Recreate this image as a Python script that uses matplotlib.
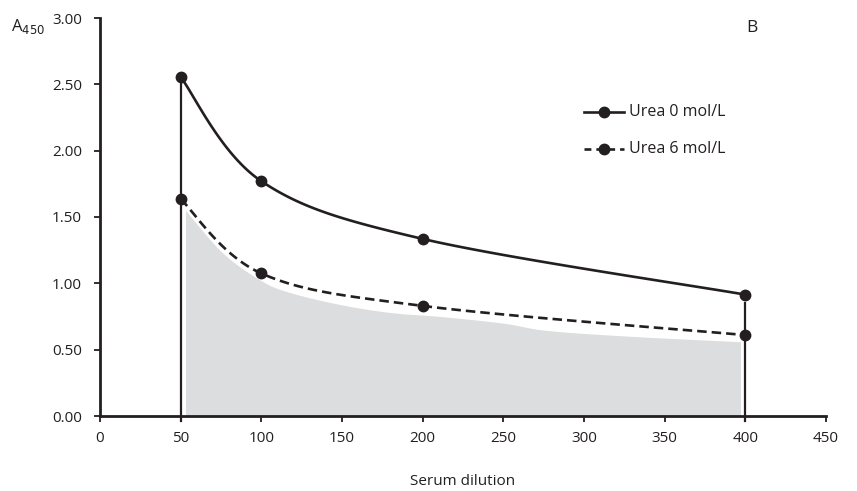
import numpy as np
import matplotlib
matplotlib.use("Agg")
import matplotlib.pyplot as plt

plt.rcParams['font.family'] = ['Open Sans', 'DejaVu Sans']

dilution = [50, 100, 200, 400]
urea0 = [2.555, 1.77, 1.335, 0.915]
urea6 = [1.635, 1.075, 0.83, 0.61]
shade_x = [53, 76, 100, 118, 149, 180, 211, 250, 277, 330, 397]
shade_y = [1.55, 1.23, 1.02, 0.93, 0.84, 0.78, 0.75, 0.70, 0.645, 0.60, 0.56]
xticks = [0, 50, 100, 150, 200, 250, 300, 350, 400, 450]
yticks = [0.0, 0.5, 1.0, 1.5, 2.0, 2.5, 3.0]


def smooth(xs, ys, n=40):
    """Catmull-Rom style Bezier smoothing (like spreadsheet smoothed lines)."""
    P = np.column_stack([xs, ys]).astype(float)
    out = []
    for i in range(len(P) - 1):
        p0 = P[i - 1] if i > 0 else P[i]
        p1 = P[i]
        p2 = P[i + 1]
        p3 = P[i + 2] if i + 2 < len(P) else P[i + 1]
        c1 = p1 + (p2 - p0) / 6.0
        c2 = p2 - (p3 - p1) / 6.0
        t = np.linspace(0, 1, n)[:, None]
        seg = ((1 - t) ** 3) * p1 + 3 * ((1 - t) ** 2) * t * c1 + 3 * (1 - t) * t ** 2 * c2 + t ** 3 * p2
        out.append(seg if i == 0 else seg[1:])
    arr = np.vstack(out)
    return arr[:, 0], arr[:, 1]


INK = '#231f20'
DASH = (3.6, 1.9)

fig = plt.figure(figsize=(8.57, 4.91), dpi=100)
ax = fig.add_axes([100 / 857, 1 - 416 / 491, 726 / 857, 398 / 491])

sx, sy = smooth(shade_x, shade_y)
ax.fill_between(sx, 0, sy, color='#dcddde', lw=0, zorder=1)

# vertical reference lines
ax.plot([dilution[0], dilution[0]], [-0.04, urea0[0]], color=INK, lw=1.6, clip_on=False, zorder=2)
ax.plot([dilution[-1], dilution[-1]], [-0.04, 0.85], color=INK, lw=1.6, clip_on=False, zorder=2)

x0, y0 = smooth(dilution, urea0)
x6, y6 = smooth(dilution, urea6)
ax.plot(x0, y0, color=INK, lw=1.9, zorder=3)
ax.plot(x6, y6, color=INK, lw=1.9, dashes=DASH, zorder=3)
ax.plot(dilution, urea0, 'o', color=INK, ms=7.5, zorder=4, clip_on=False)
ax.plot(dilution, urea6, 'o', color=INK, ms=7.5, zorder=4, clip_on=False)

# legend drawn manually in axes fraction coordinates
for yy, ls, lab in [(0.765, '-', 'Urea 0 mol/L'), (0.670, '--', 'Urea 6 mol/L')]:
    if ls == '-':
        ax.plot([0.667, 0.722], [yy, yy], color=INK, lw=1.9, transform=ax.transAxes, clip_on=False)
    else:
        ax.plot([0.667, 0.722], [yy, yy], color=INK, lw=1.9, dashes=(2.6, 1.9),
                transform=ax.transAxes, clip_on=False)
    ax.plot([0.694], [yy], 'o', color=INK, ms=7.5, transform=ax.transAxes, clip_on=False)
    ax.text(0.728, yy, lab, transform=ax.transAxes, va='center', ha='left', fontsize=11.5, color=INK)

ax.text(0.898, 0.975, 'B', transform=ax.transAxes, fontsize=12.5, va='center', ha='center', color=INK)
fig.text(11 / 857, 1 - 26 / 491, r'A$_{450}$', fontsize=12, va='center', ha='left', color=INK)

ax.set_xlim(0, 450)
ax.set_ylim(0, 3.0)
ax.set_xticks(xticks)
ax.set_xticklabels([str(v) for v in xticks])
ax.set_yticks(yticks)
ax.set_yticklabels([f'{v:.2f}' for v in yticks])
for s in ['top', 'right']:
    ax.spines[s].set_visible(False)
for s in ['left', 'bottom']:
    ax.spines[s].set_linewidth(2.0)
    ax.spines[s].set_color(INK)
ax.tick_params(direction='out', length=4, width=1.3, labelsize=11, colors=INK)
ax.tick_params(axis='y', pad=9)
ax.tick_params(axis='x', pad=7)
ax.set_xlabel('Serum dilution', fontsize=11, color=INK, labelpad=20)

fig.savefig('out.png', dpi=100)
